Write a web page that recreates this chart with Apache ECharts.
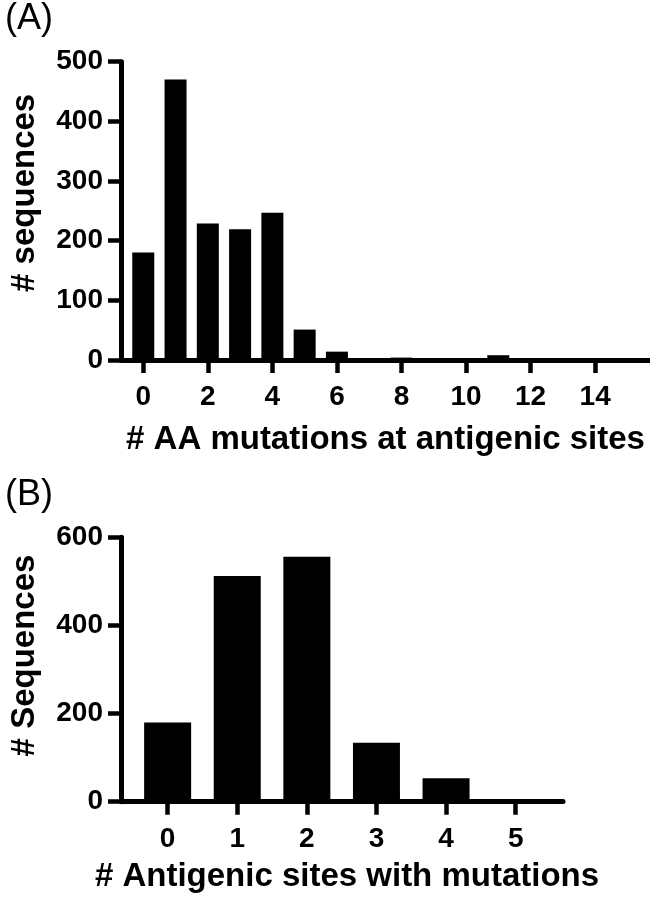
<!DOCTYPE html>
<html>
<head>
<meta charset="UTF-8">
<title>Antigenic site mutations</title>
<script type="text/javascript" src="https://cdn.jsdelivr.net/npm/echarts@6/dist/echarts.min.js"></script>
<style>
html,body{margin:0;padding:0;background:#fff;}
</style>
</head>
<body>
<div id="box" style="width:650px;height:901px;"></div>

<script type="text/javascript">
// (A) number of AA mutations at antigenic sites
var aaCounts=[0,1,2,3,4,5,6,7,8,9,10,11,12,13,14,15];
var aaSeqs=[180,470,229,219,247,51,14,3,4,1,1,8,1,1,1,1];
var aaTicks=[0,2,4,6,8,10,12,14];

// (B) number of antigenic sites with mutations
var siteCounts=[0,1,2,3,4,5];
var siteSeqs=[180,512,556,134,53,6];
var siteTicks=[0,1,2,3,4,5];

var font='"Liberation Sans", Arial, sans-serif';
var lineStyle={color:'#000',width:5};
var tickStyle={color:'#000',width:4.5};
var labelStyle={color:'#000',fontSize:28,fontWeight:'bold',fontFamily:font};
var nameStyle={color:'#000',fontSize:33,fontWeight:'bold',fontFamily:font};
var panelStyle={color:'#000',fontSize:36,fontWeight:'normal',fontFamily:font};

function pairs(xs,ys){
  var out=[];
  for(var i=0;i<xs.length;i++){
    out.push([xs[i],ys[i]]);
  }
  return out;
}

var mychart=echarts.init(document.getElementById('box'));

mychart.setOption({
  animation:false,
  backgroundColor:'#fff',
  title:[
    {text:'(A)',left:0,top:-4,textStyle:panelStyle},
    {text:'(B)',left:0,top:472,textStyle:panelStyle}
  ],
  grid:[
    {left:112.5,top:61.7,width:537.5,height:298.3},
    {left:112.5,top:537.3,width:450.5,height:264.4}
  ],
  xAxis:[{
    gridIndex:0,type:'value',min:-0.69,max:15.7,
    name:'# AA mutations at antigenic sites',nameLocation:'middle',nameGap:63,
    nameTextStyle:nameStyle,
    axisLine:{lineStyle:lineStyle},
    axisTick:{length:13,lineStyle:tickStyle,customValues:aaTicks},
    axisLabel:Object.assign({margin:23,customValues:aaTicks},labelStyle),
    splitLine:{show:false}
  },{
    gridIndex:1,type:'value',min:-0.67,max:5.68,
    name:'# Antigenic sites with mutations',nameLocation:'middle',nameGap:59,
    nameTextStyle:Object.assign({padding:[0,0,0,10]},nameStyle),
    axisLine:{lineStyle:lineStyle},
    axisTick:{length:13,lineStyle:tickStyle,customValues:siteTicks},
    axisLabel:Object.assign({margin:24,customValues:siteTicks},labelStyle),
    splitLine:{show:false}
  }],
  yAxis:[{
    gridIndex:0,type:'value',min:0,max:500,interval:100,
    name:'# sequences',nameLocation:'middle',nameGap:80,
    nameTextStyle:Object.assign({padding:[0,0,0,36]},nameStyle),
    axisLine:{show:true,onZero:false,lineStyle:lineStyle},
    axisTick:{show:true,length:13,lineStyle:tickStyle},
    axisLabel:Object.assign({margin:18},labelStyle),
    splitLine:{show:false}
  },{
    gridIndex:1,type:'value',min:0,max:600,interval:200,
    name:'# Sequences',nameLocation:'middle',nameGap:80,
    nameTextStyle:Object.assign({padding:[0,0,0,28]},nameStyle),
    axisLine:{show:true,onZero:false,lineStyle:lineStyle},
    axisTick:{show:true,length:13,lineStyle:tickStyle},
    axisLabel:Object.assign({margin:18},labelStyle),
    splitLine:{show:false}
  }],
  series:[{
    type:'bar',xAxisIndex:0,yAxisIndex:0,
    barWidth:22,
    itemStyle:{color:'#000'},
    data:pairs(aaCounts,aaSeqs)
  },{
    type:'bar',xAxisIndex:1,yAxisIndex:1,
    barWidth:47,
    itemStyle:{color:'#000'},
    data:pairs(siteCounts,siteSeqs)
  }]
});
</script>
</body>
</html>
